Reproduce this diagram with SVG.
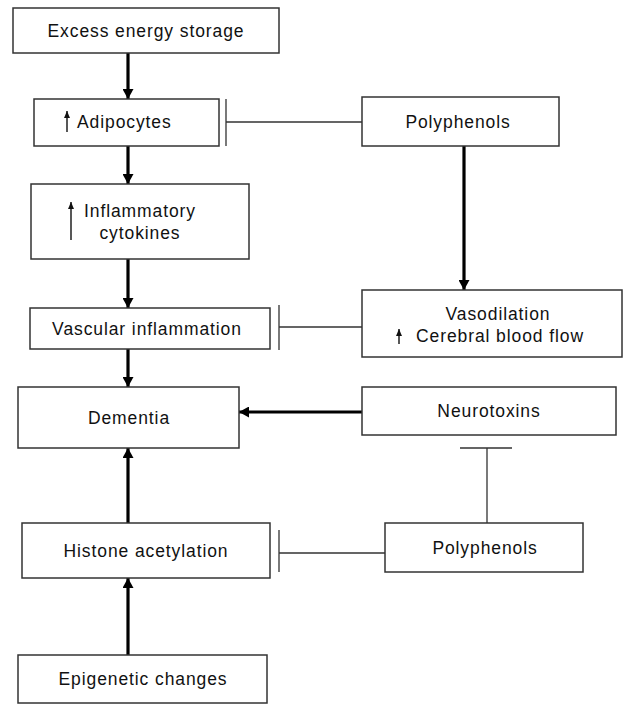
<svg xmlns="http://www.w3.org/2000/svg" width="625" height="704" viewBox="0 0 625 704">
<style>
.box{fill:#fff;stroke:#333;stroke-width:1.5}
.t{font-family:"Liberation Sans",Arial,sans-serif;font-size:17.5px;fill:#111;letter-spacing:0.9px;text-anchor:middle}
.ta{text-anchor:start}
.thick{stroke:#000;stroke-width:3.2;fill:none}
.thin{stroke:#333;stroke-width:1.3;fill:none}
.up{stroke:#111;stroke-width:1.4;fill:none}
</style>
<defs>
<marker id="ah" markerUnits="userSpaceOnUse" markerWidth="10" markerHeight="11" viewBox="0 0 10 11" refX="10" refY="5.5" orient="auto">
<path d="M0,0 L10,5.5 L0,11 Z" fill="#000"/>
</marker>
<marker id="sa" markerUnits="userSpaceOnUse" markerWidth="7" markerHeight="6" viewBox="0 0 7 6" refX="7" refY="3" orient="auto">
<path d="M0,0 L7,3 L0,6 Z" fill="#111"/>
</marker>
</defs>
<g id="connectors">
<line class="thick" x1="128" y1="53" x2="128" y2="99" marker-end="url(#ah)"/>
<line class="thick" x1="128" y1="146" x2="128" y2="184" marker-end="url(#ah)"/>
<line class="thick" x1="128" y1="259" x2="128" y2="308" marker-end="url(#ah)"/>
<line class="thick" x1="128" y1="349" x2="128" y2="387" marker-end="url(#ah)"/>
<line class="thick" x1="362" y1="412" x2="239" y2="412" marker-end="url(#ah)"/>
<line class="thick" x1="128" y1="523" x2="128" y2="448" marker-end="url(#ah)"/>
<line class="thick" x1="128" y1="655" x2="128" y2="578" marker-end="url(#ah)"/>
<line class="thick" x1="464" y1="146" x2="464" y2="290" marker-end="url(#ah)"/>
<path class="thin" d="M362,122 H226 M226,99 V146"/>
<path class="thin" d="M362,327 H279 M279,305 V350"/>
<path class="thin" d="M385,553 H279 M279,530 V572"/>
<path class="thin" d="M487,523 V448 M460,448 H512"/>
</g>
<g id="excess">
<rect class="box" x="13" y="8" width="266" height="45"/>
<text class="t" x="146" y="37">Excess energy storage</text>
</g>
<g id="adipocytes">
<rect class="box" x="34" y="99" width="185" height="47"/>
<line class="up" x1="67" y1="132" x2="67" y2="111" marker-end="url(#sa)"/>
<text class="t ta" x="77" y="128">Adipocytes</text>
</g>
<g id="cytokines">
<rect class="box" x="31" y="184" width="218" height="75"/>
<line class="up" x1="71" y1="240" x2="71" y2="202" marker-end="url(#sa)"/>
<text class="t" x="140" y="217">Inflammatory</text>
<text class="t" x="140" y="239">cytokines</text>
</g>
<g id="vascular">
<rect class="box" x="30" y="308" width="240" height="41"/>
<text class="t" x="147" y="335">Vascular inflammation</text>
</g>
<g id="dementia">
<rect class="box" x="18" y="387" width="221" height="61"/>
<text class="t" x="129" y="424">Dementia</text>
</g>
<g id="histone">
<rect class="box" x="22" y="523" width="248" height="55"/>
<text class="t" x="146" y="557">Histone acetylation</text>
</g>
<g id="epigenetic">
<rect class="box" x="18" y="655" width="249" height="48"/>
<text class="t" x="143" y="685">Epigenetic changes</text>
</g>
<g id="polyphenols1">
<rect class="box" x="362" y="97" width="197" height="49"/>
<text class="t" x="458" y="128">Polyphenols</text>
</g>
<g id="vasodilation">
<rect class="box" x="362" y="290" width="260" height="67"/>
<text class="t" x="498" y="320">Vasodilation</text>
<line class="up" x1="399" y1="344" x2="399" y2="329" marker-end="url(#sa)"/>
<text class="t" x="500" y="342">Cerebral blood flow</text>
</g>
<g id="neurotoxins">
<rect class="box" x="362" y="387" width="254" height="48"/>
<text class="t" x="489" y="417">Neurotoxins</text>
</g>
<g id="polyphenols2">
<rect class="box" x="385" y="523" width="198" height="49"/>
<text class="t" x="485" y="554">Polyphenols</text>
</g>
</svg>
